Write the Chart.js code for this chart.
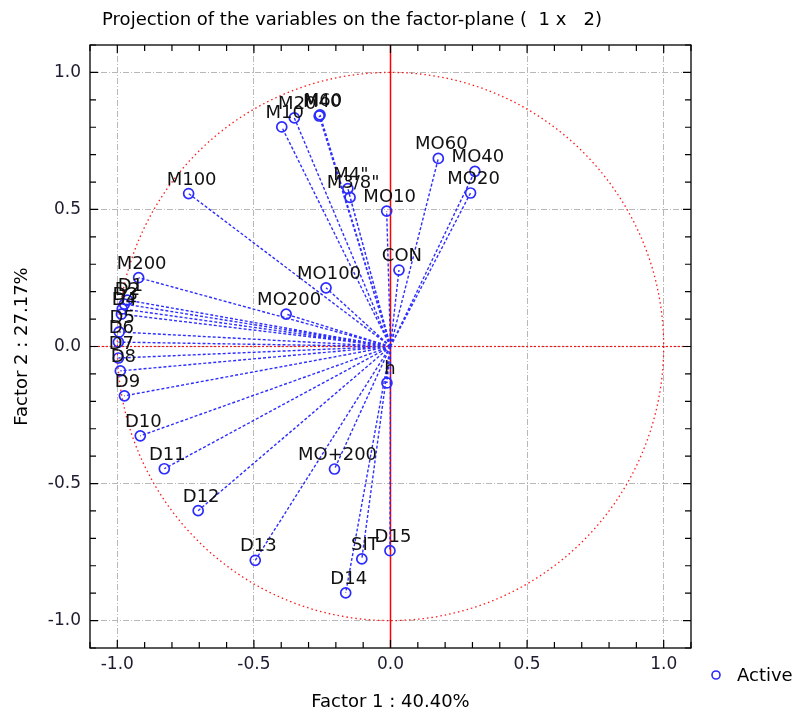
<!DOCTYPE html>
<html>
<head>
<meta charset="utf-8">
<title>Projection of the variables on the factor-plane</title>
<script src="https://cdn.jsdelivr.net/npm/chart.js@4.4.1/dist/chart.umd.min.js"></script>
<style>
  html, body { margin: 0; padding: 0; background: #fff; }
  #wrap { width: 796px; height: 715px; }
</style>
</head>
<body>
<div id="wrap"><canvas id="factorChart" width="796" height="715"></canvas></div>
<script>
var variableNames = ['M10', 'M20', 'M40', 'M60', 'M100', 'M200', 'M4"', 'M3/8"',
  'MO10', 'MO20', 'MO40', 'MO60', 'MO100', 'MO200', 'MO+200', 'CON', 'SIT', 'h',
  'D1', 'D2', 'D3', 'D4', 'D5', 'D6', 'D7', 'D8', 'D9', 'D10', 'D11', 'D12', 'D13', 'D14', 'D15'];
var factor1 = [-0.398, -0.352, -0.261, -0.258, -0.739, -0.922, -0.156, -0.148,
  -0.014, 0.293, 0.309, 0.175, -0.236, -0.382, -0.205, 0.031, -0.105, -0.013,
  -0.963, -0.974, -0.982, -0.985, -0.993, -0.996, -0.996, -0.989, -0.974, -0.916, -0.828, -0.704, -0.495, -0.164, -0.002];
var factor2 = [0.801, 0.834, 0.841, 0.845, 0.558, 0.251, 0.576, 0.544,
  0.494, 0.560, 0.639, 0.686, 0.214, 0.118, -0.447, 0.279, -0.775, -0.133,
  0.169, 0.155, 0.137, 0.118, 0.053, 0.016, -0.042, -0.089, -0.180, -0.326, -0.446, -0.599, -0.780, -0.899, -0.745];
var majorTicks = [-1.0, -0.5, 0.0, 0.5, 1.0];
var majorLabels = ['-1.0', '-0.5', '0.0', '0.5', '1.0'];
var axisMin = -1.1;
var axisMax = 1.1;
var chartTitle = 'Projection of the variables on the factor-plane (  1 x   2)';
var xTitle = 'Factor 1 : 40.40%';
var yTitle = 'Factor 2 : 27.17%';
var legendLabel = 'Active';

var FONT = "'DejaVu Sans', 'Liberation Sans', Arial, sans-serif";
var BLUE = '#2b2bff';

function majorIndex(value) {
  for (var i = 0; i < majorTicks.length; i++) {
    if (Math.abs(majorTicks[i] - value) < 1e-6) return i;
  }
  return -1;
}

function isMajor(value) {
  return majorIndex(value) >= 0;
}

function buildPoints() {
  return factor1.map(function (x, i) {
    return { x: x, y: factor2[i] };
  });
}

function buildRays() {
  var rays = [];
  factor1.forEach(function (x, i) {
    rays.push({ x: 0, y: 0 });
    rays.push({ x: x, y: factor2[i] });
    rays.push({ x: 0, y: null });
  });
  return rays;
}

var factorPlane = {
  id: 'factorPlane',
  beforeDatasetsDraw: function (chart) {
    var ctx = chart.ctx;
    var area = chart.chartArea;
    var xs = chart.scales.x;
    var ys = chart.scales.y;
    var x0 = xs.getPixelForValue(0);
    var y0 = ys.getPixelForValue(0);
    var rx = xs.getPixelForValue(1) - x0;
    var ry = y0 - ys.getPixelForValue(1);

    ctx.save();
    // unit circle
    ctx.strokeStyle = 'rgba(255,0,0,0.9)';
    ctx.lineWidth = 1.3;
    ctx.setLineDash([1.5, 3]);
    ctx.beginPath();
    ctx.ellipse(x0, y0, rx, ry, 0, 0, Math.PI * 2);
    ctx.stroke();

    // horizontal zero line
    ctx.setLineDash([2, 2]);
    ctx.lineWidth = 1.2;
    ctx.beginPath();
    ctx.moveTo(area.left, y0);
    ctx.lineTo(area.right, y0);
    ctx.stroke();

    // vertical zero line
    ctx.setLineDash([]);
    ctx.strokeStyle = '#ff0000';
    ctx.lineWidth = 1.5;
    ctx.beginPath();
    ctx.moveTo(x0, area.top);
    ctx.lineTo(x0, area.bottom);
    ctx.stroke();

    // frame
    ctx.strokeStyle = '#000';
    ctx.lineWidth = 1.3;
    ctx.strokeRect(area.left, area.top, area.right - area.left, area.bottom - area.top);

    // inward tick marks
    ctx.lineWidth = 1.2;
    ctx.beginPath();
    xs.ticks.forEach(function (t) {
      var px = xs.getPixelForValue(t.value);
      var len = isMajor(t.value) ? 8 : 6;
      ctx.moveTo(px, area.bottom);
      ctx.lineTo(px, area.bottom - len);
      ctx.moveTo(px, area.top);
      ctx.lineTo(px, area.top + len);
    });
    ys.ticks.forEach(function (t) {
      var py = ys.getPixelForValue(t.value);
      var len = isMajor(t.value) ? 8 : 6;
      ctx.moveTo(area.left, py);
      ctx.lineTo(area.left + len, py);
      ctx.moveTo(area.right, py);
      ctx.lineTo(area.right - len, py);
    });
    ctx.stroke();

    // x tick labels
    ctx.fillStyle = '#1c1c30';
    ctx.font = '17px ' + FONT;
    ctx.textAlign = 'center';
    ctx.textBaseline = 'middle';
    xs.ticks.forEach(function (t) {
      var i = majorIndex(t.value);
      if (i < 0) return;
      ctx.fillText(majorLabels[i], xs.getPixelForValue(t.value), area.bottom + 17);
    });
    ctx.restore();
  },
  afterDatasetsDraw: function (chart) {
    var ctx = chart.ctx;
    var xs = chart.scales.x;
    var ys = chart.scales.y;
    ctx.save();
    ctx.font = '18px ' + FONT;
    ctx.fillStyle = '#111';
    ctx.textAlign = 'center';
    ctx.textBaseline = 'alphabetic';
    variableNames.forEach(function (name, i) {
      var px = xs.getPixelForValue(factor1[i]);
      var py = ys.getPixelForValue(factor2[i]);
      ctx.fillText(name, px + 3, py - 9);
    });
    ctx.restore();
  },
  afterDraw: function (chart) {
    var ctx = chart.ctx;
    ctx.save();
    ctx.fillStyle = '#000';
    ctx.font = '18px ' + FONT;
    ctx.textAlign = 'center';
    ctx.textBaseline = 'middle';
    ctx.fillText(chartTitle, 352, 20);

    // legend
    ctx.strokeStyle = BLUE;
    ctx.lineWidth = 1.6;
    ctx.beginPath();
    ctx.arc(716, 675, 4, 0, Math.PI * 2);
    ctx.stroke();
    ctx.textAlign = 'left';
    ctx.fillText(legendLabel, 737, 676);
    ctx.restore();
  }
};

function gridColor(context) {
  return isMajor(context.tick.value) ? '#b8b8b8' : 'rgba(0,0,0,0)';
}

function tickLabel(value) {
  var i = majorIndex(value);
  return i >= 0 ? majorLabels[i] : '';
}

var ctx = document.getElementById('factorChart').getContext('2d');
new Chart(ctx, {
  type: 'scatter',
  data: {
    datasets: [
      {
        label: legendLabel,
        data: buildPoints(),
        pointStyle: 'circle',
        pointRadius: 5,
        pointHoverRadius: 5,
        backgroundColor: 'rgba(0,0,0,0)',
        borderColor: BLUE,
        borderWidth: 1.7,
        showLine: false
      },
      {
        label: 'rays',
        data: buildRays(),
        showLine: true,
        spanGaps: false,
        fill: false,
        borderColor: 'rgba(35,35,255,0.95)',
        borderWidth: 1.4,
        borderDash: [3, 2],
        pointRadius: 0,
        pointHoverRadius: 0
      }
    ]
  },
  options: {
    responsive: false,
    animation: false,
    events: [],
    layout: { padding: { top: 45, right: 105, bottom: 0, left: 0 } },
    plugins: {
      legend: { display: false },
      tooltip: { enabled: false },
      title: { display: false }
    },
    scales: {
      x: {
        type: 'linear',
        position: 'bottom',
        min: axisMin,
        max: axisMax,
        afterFit: function (scale) { scale.height = 67; },
        ticks: {
          display: false,
          stepSize: 0.1,
          autoSkip: false,
          maxRotation: 0
        },
        grid: { color: gridColor, lineWidth: 1, drawTicks: false },
        border: { display: false, dash: [6, 2, 1, 2] },
        title: {
          display: true,
          text: xTitle,
          color: '#000',
          font: { family: FONT, size: 18 },
          padding: { top: 2, bottom: 2 }
        }
      },
      y: {
        type: 'linear',
        position: 'left',
        min: axisMin,
        max: axisMax,
        afterFit: function (scale) { scale.width = 90; },
        ticks: {
          stepSize: 0.1,
          autoSkip: false,
          padding: 9,
          color: '#1c1c30',
          font: { family: FONT, size: 17 },
          callback: tickLabel
        },
        grid: { color: gridColor, lineWidth: 1, drawTicks: false },
        border: { display: false, dash: [6, 2, 1, 2] },
        title: {
          display: true,
          text: yTitle,
          color: '#000',
          font: { family: FONT, size: 18 },
          padding: { top: 12, bottom: 12 }
        }
      }
    }
  },
  plugins: [factorPlane]
});
</script>
</body>
</html>
